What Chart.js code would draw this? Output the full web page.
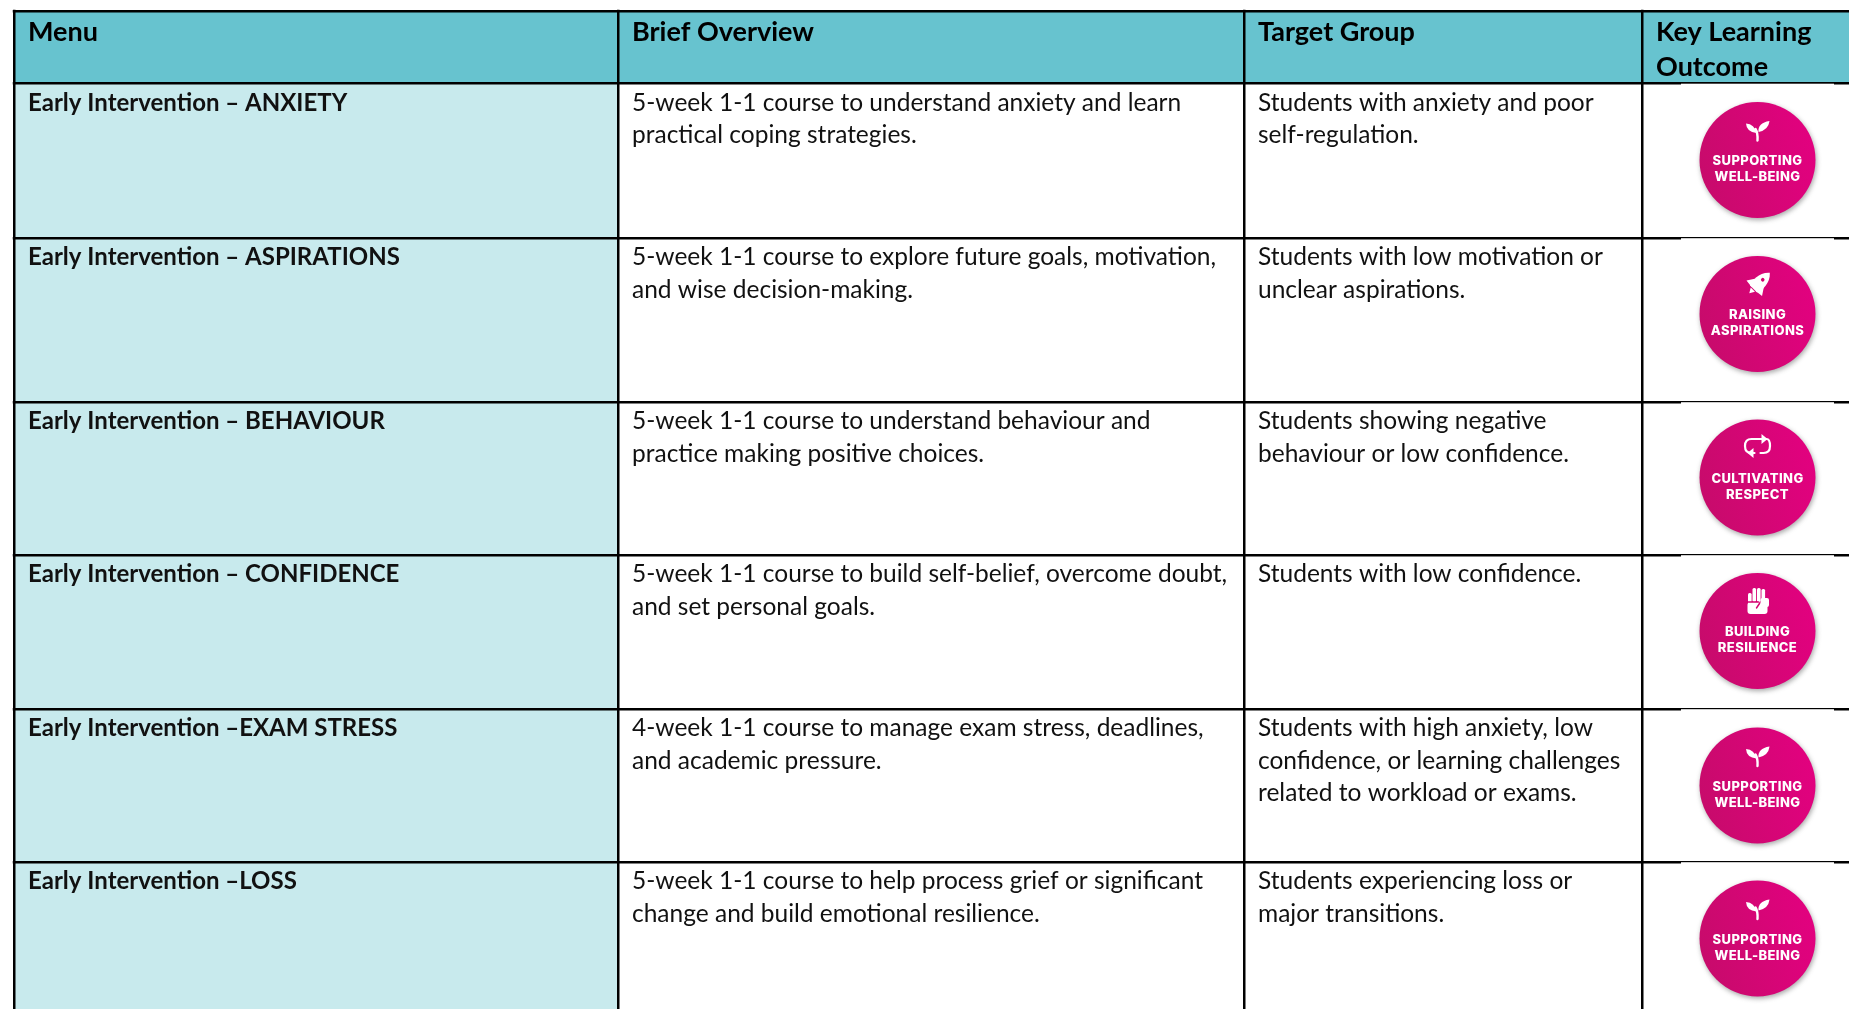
<!DOCTYPE html>
<html>
<head>
<meta charset="utf-8">
<title>Early Intervention menu</title>
<script src="https://cdn.jsdelivr.net/npm/chart.js@4/dist/chart.umd.min.js"></script>
<style>
  html, body { margin: 0; padding: 0; background: #fff; overflow: hidden; }
  canvas { display: block; }
</style>
</head>
<body>
<canvas id="tableChart" width="1849" height="1009"></canvas>
<script>
// Table text
const headers = [['Menu'], ['Brief Overview'], ['Target Group'], ['Key Learning', 'Outcome']];
const menuItems = [
    'Early Intervention – ANXIETY',
    'Early Intervention – ASPIRATIONS',
    'Early Intervention – BEHAVIOUR',
    'Early Intervention – CONFIDENCE',
    'Early Intervention –EXAM STRESS',
    'Early Intervention –LOSS'
];
const overviews = [
    ['5-week 1-1 course to understand anxiety and learn', 'practical coping strategies.'],
    ['5-week 1-1 course to explore future goals, motivation,', 'and wise decision-making.'],
    ['5-week 1-1 course to understand behaviour and', 'practice making positive choices.'],
    ['5-week 1-1 course to build self-belief, overcome doubt,', 'and set personal goals.'],
    ['4-week 1-1 course to manage exam stress, deadlines,', 'and academic pressure.'],
    ['5-week 1-1 course to help process grief or significant', 'change and build emotional resilience.']
];
const targets = [
    ['Students with anxiety and poor', 'self-regulation.'],
    ['Students with low motivation or', 'unclear aspirations.'],
    ['Students showing negative', 'behaviour or low confidence.'],
    ['Students with low confidence.'],
    ['Students with high anxiety, low', 'confidence, or learning challenges', 'related to workload or exams.'],
    ['Students experiencing loss or', 'major transitions.']
];
const badgeLabels = [
    ['SUPPORTING', 'WELL-BEING'],
    ['RAISING', 'ASPIRATIONS'],
    ['CULTIVATING', 'RESPECT'],
    ['BUILDING', 'RESILIENCE'],
    ['SUPPORTING', 'WELL-BEING'],
    ['SUPPORTING', 'WELL-BEING']
];
const badgeIcons = ['sprout', 'rocket', 'cycle', 'fist', 'sprout', 'sprout'];

// Table geometry (same units as the axes)
const colEdges = [14, 618, 1244, 1642, 1849];
const rowEdges = [11, 83.5, 238, 402, 555, 709, 862, 1009];
const badgeX = [1757.5, 1757.5, 1757.5, 1757.5, 1757.5, 1757.5];
const badgeY = [160, 314, 477.5, 631, 785.5, 938.5];

const HEADER_BG = '#67c3cf';
const MENU_BG = '#c8eaed';
const FONT = 'Lato, sans-serif';

function cell(x0, x1, y0, y1, color) {
    return {
        type: 'scatter',
        data: [{x: x0, y: y0}, {x: x1, y: y0}, {x: x1, y: y1}, {x: x0, y: y1}, {x: x0, y: y0}],
        showLine: true,
        fill: 'shape',
        backgroundColor: color,
        borderWidth: 0,
        pointRadius: 0,
        order: 2
    };
}

function badgeGradient(context) {
    const chart = context.chart;
    const x = chart.scales.x.getPixelForValue(context.raw.x);
    const y = chart.scales.y.getPixelForValue(context.raw.y);
    if (!isFinite(x) || !isFinite(y)) return '#d4006f';
    const g = chart.ctx.createLinearGradient(x - 58, y + 20, x + 58, y - 10);
    g.addColorStop(0, '#c70b6b');
    g.addColorStop(1, '#e2017f');
    return g;
}

// Icons on the badges, drawn round the badge centre
function drawIcon(ctx, name, cx, cy) {
    ctx.save();
    ctx.translate(cx, cy);
    ctx.fillStyle = '#fff';
    ctx.strokeStyle = '#fff';
    ctx.lineCap = 'round';
    if (name === 'sprout') {
        ctx.lineWidth = 2.4;
        ctx.beginPath();
        ctx.moveTo(0, -19.5);
        ctx.quadraticCurveTo(0.5, -27, -2, -31);
        ctx.stroke();
        ctx.beginPath();
        ctx.moveTo(-1, -27);
        ctx.quadraticCurveTo(-11, -28, -11.5, -36.5);
        ctx.quadraticCurveTo(-3, -36, -1, -27);
        ctx.fill();
        ctx.beginPath();
        ctx.moveTo(1, -28);
        ctx.quadraticCurveTo(0, -37, 12, -39);
        ctx.quadraticCurveTo(11, -30, 1, -28);
        ctx.fill();
    } else if (name === 'rocket') {
        ctx.translate(1, -30);
        ctx.rotate(Math.PI / 4);
        ctx.beginPath();
        ctx.moveTo(0, -16);
        ctx.bezierCurveTo(8, -9, 7, 2, 5, 7);
        ctx.lineTo(-5, 7);
        ctx.bezierCurveTo(-7, 2, -8, -9, 0, -16);
        ctx.fill();
        ctx.beginPath();
        ctx.moveTo(-5, -3);
        ctx.lineTo(-11, 6);
        ctx.lineTo(-3, 7);
        ctx.closePath();
        ctx.moveTo(5, -3);
        ctx.lineTo(11, 6);
        ctx.lineTo(3, 7);
        ctx.closePath();
        ctx.moveTo(-3, 8);
        ctx.lineTo(3, 8);
        ctx.lineTo(0, 13);
        ctx.closePath();
        ctx.fill();
        ctx.fillStyle = '#d4006f';
        ctx.beginPath();
        ctx.arc(0, -6, 1.8, 0, Math.PI * 2);
        ctx.fill();
    } else if (name === 'cycle') {
        ctx.translate(0, -2.5);
        ctx.lineWidth = 2.2;
        ctx.beginPath();
        ctx.moveTo(-3, -22);
        ctx.lineTo(-6, -22);
        ctx.quadraticCurveTo(-12.5, -22, -12.5, -29);
        ctx.quadraticCurveTo(-12.5, -36, -6, -36);
        ctx.lineTo(6, -36);
        ctx.moveTo(3, -22);
        ctx.lineTo(6, -22);
        ctx.quadraticCurveTo(12.5, -22, 12.5, -29);
        ctx.quadraticCurveTo(12.5, -36, 9, -36);
        ctx.stroke();
        ctx.beginPath();
        ctx.moveTo(4, -41);
        ctx.lineTo(10, -36);
        ctx.lineTo(4, -31);
        ctx.closePath();
        ctx.moveTo(-4, -27);
        ctx.lineTo(-10, -22);
        ctx.lineTo(-4, -17);
        ctx.closePath();
        ctx.fill();
    } else if (name === 'fist') {
        [-9.5, -5, -0.5, 4].forEach(function(fx, i) {
            ctx.beginPath();
            ctx.roundRect(fx, i === 0 ? -38 : -43 + (i === 3 ? 1 : 0), 3.6, 14, 1.5);
            ctx.fill();
        });
        ctx.beginPath();
        ctx.roundRect(-10, -29, 20, 12, 3);
        ctx.fill();
        ctx.strokeStyle = '#d4006f';
        ctx.lineWidth = 1.4;
        ctx.beginPath();
        ctx.moveTo(-10, -29);
        ctx.lineTo(1, -29);
        ctx.moveTo(3, -29);
        ctx.lineTo(-1, -23);
        ctx.stroke();
        ctx.fillStyle = '#fff';
        ctx.beginPath();
        ctx.roundRect(3, -33, 8.5, 9, 2);
        ctx.fill();
    }
    ctx.restore();
}

function drawLines(ctx, lines, x, y, step) {
    lines.forEach(function(line, i) {
        ctx.fillText(line, x, y + i * step);
    });
}

// Soft shadow under the badges only
const badgeShadow = {
    id: 'badgeShadow',
    beforeDatasetDraw(chart, args) {
        if (chart.data.datasets[args.index].label !== 'badges') return;
        chart.ctx.save();
        chart.ctx.shadowColor = 'rgba(60,60,60,0.45)';
        chart.ctx.shadowBlur = 5;
        chart.ctx.shadowOffsetX = 1;
        chart.ctx.shadowOffsetY = 2;
    },
    afterDatasetDraw(chart, args) {
        if (chart.data.datasets[args.index].label !== 'badges') return;
        chart.ctx.restore();
    }
};

// All the table text, plus the badge labels and icons
const tableText = {
    id: 'tableText',
    afterDraw(chart) {
        const ctx = chart.ctx;
        const xs = chart.scales.x;
        const ys = chart.scales.y;
        const padX = 14;
        const firstLine = 27;
        const ruleHalf = 1.25;

        // grid lines run the full chart, the table only starts at its top left corner
        ctx.fillStyle = '#fff';
        ctx.fillRect(0, 0, chart.width, ys.getPixelForValue(rowEdges[0]) - ruleHalf);
        ctx.fillRect(0, 0, xs.getPixelForValue(colEdges[0]) - ruleHalf, chart.height);

        // the badge pictures sit on top of the row rules and thin them
        rowEdges.slice(1, -1).forEach(function(edge) {
            ctx.fillRect(xs.getPixelForValue(1681), ys.getPixelForValue(edge) + 0.2, 153, 2);
        });

        ctx.save();
        ctx.textBaseline = 'alphabetic';
        ctx.textAlign = 'left';

        ctx.fillStyle = '#000';
        ctx.font = 'bold 27px ' + FONT;
        headers.forEach(function(lines, c) {
            const x = xs.getPixelForValue(colEdges[c]) + padX;
            drawLines(ctx, lines, x, ys.getPixelForValue(rowEdges[0]) + 29.5, 35);
        });

        ctx.fillStyle = '#111';
        menuItems.forEach(function(label, r) {
            const y = ys.getPixelForValue(rowEdges[r + 1]) + firstLine;
            ctx.font = 'bold 24px ' + FONT;
            ctx.fillText(label, xs.getPixelForValue(colEdges[0]) + padX, y);
            ctx.font = '24.5px ' + FONT;
            drawLines(ctx, overviews[r], xs.getPixelForValue(colEdges[1]) + padX, y, 32.5);
            drawLines(ctx, targets[r], xs.getPixelForValue(colEdges[2]) + padX, y, 32.5);
        });

        ctx.textAlign = 'center';
        ctx.fillStyle = '#fff';
        ctx.font = '800 13px Inter, sans-serif';
        ctx.letterSpacing = '0.4px';
        badgeLabels.forEach(function(lines, i) {
            const x = xs.getPixelForValue(badgeX[i]);
            const y = ys.getPixelForValue(badgeY[i]);
            drawLines(ctx, lines, x, y + 5, 16);
            drawIcon(ctx, badgeIcons[i], x, y);
        });
        ctx.restore();
    }
};

// Cell fills: the header band and the menu column
const datasets = [];
datasets.push(cell(colEdges[0], colEdges[colEdges.length - 1], rowEdges[0], rowEdges[1], HEADER_BG));
datasets.push(cell(colEdges[0], colEdges[1], rowEdges[1], rowEdges[rowEdges.length - 1], MENU_BG));
datasets.push({
    type: 'scatter',
    label: 'badges',
    data: badgeX.map((x, i) => ({x: x, y: badgeY[i]})),
    pointRadius: 58,
    pointHoverRadius: 58,
    pointBackgroundColor: badgeGradient,
    pointBorderWidth: 0,
    clip: false,
    order: 1
});

new Chart(document.getElementById('tableChart'), {
    data: { datasets: datasets },
    plugins: [badgeShadow, tableText],
    options: {
        responsive: false,
        animation: false,
        events: [],
        layout: { padding: 0, autoPadding: false },
        plugins: { legend: { display: false }, tooltip: { enabled: false } },
        scales: {
            x: {
                type: 'linear',
                min: 0,
                max: 1849,
                ticks: { display: false },
                border: { display: false },
                grid: { color: '#000', lineWidth: 2.5, drawTicks: false, z: 1 },
                afterBuildTicks(axis) {
                    axis.ticks = colEdges.slice(0, -1).map(v => ({value: v}));
                }
            },
            y: {
                type: 'linear',
                min: 0,
                max: 1009,
                reverse: true,
                ticks: { display: false },
                border: { display: false },
                grid: { color: '#000', lineWidth: 2.5, drawTicks: false, z: 1 },
                afterBuildTicks(axis) {
                    axis.ticks = rowEdges.slice(0, -1).map(v => ({value: v}));
                }
            }
        }
    }
});
</script>
</body>
</html>
